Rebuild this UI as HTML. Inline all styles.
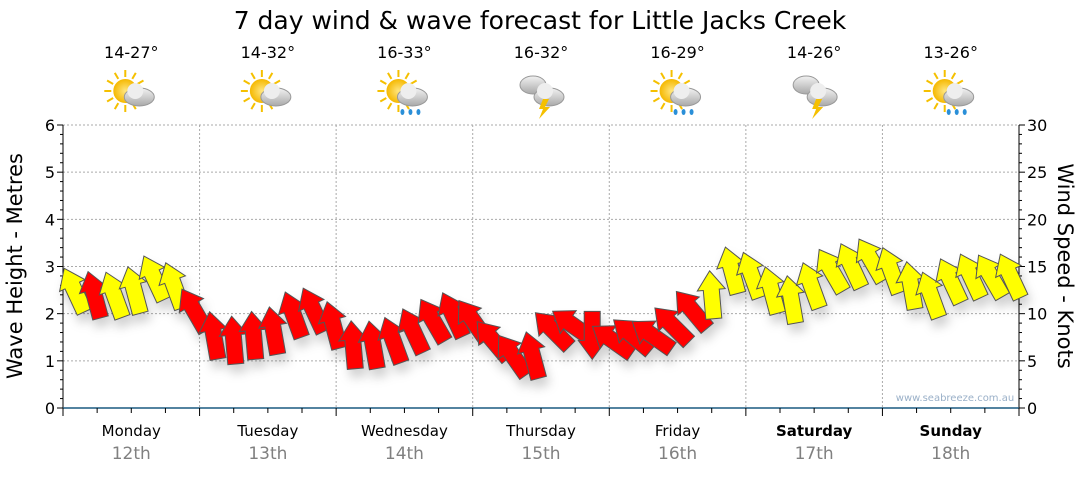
<!DOCTYPE html>
<html><head><meta charset="utf-8"><style>
body{margin:0;background:#fff;font-family:"Liberation Sans",sans-serif}
svg text{font-family:"DejaVu Sans","Liberation Sans",sans-serif}
</style></head><body>
<svg id="c" width="1080" height="475" xmlns="http://www.w3.org/2000/svg">
<defs>
<filter id="sh" x="-50%" y="-50%" width="200%" height="200%"><feDropShadow dx="3" dy="8" stdDeviation="5" flood-color="#000" flood-opacity="0.18"/></filter>
<radialGradient id="sun"><stop offset="0" stop-color="#ffe680"/><stop offset="1" stop-color="#f5b800"/></radialGradient>
<linearGradient id="cl" x1="0" y1="0" x2="0" y2="1"><stop offset="0" stop-color="#f2f2f2"/><stop offset="1" stop-color="#a9a9a9"/></linearGradient>
</defs>
<text x="540" y="29" text-anchor="middle" font-size="25" fill="#000">7 day wind &amp; wave forecast for Little Jacks Creek</text>
<g id="grid"></g>
<g id="axes"></g>
<g id="hdr"></g>
<g id="marks" filter="url(#sh)"></g>
<text x="955" y="401" text-anchor="middle" font-size="10" fill="#9ab0c8">www.seabreeze.com.au</text>
<text transform="translate(22,266) rotate(-90)" text-anchor="middle" font-size="21">Wave Height - Metres</text>
<text transform="translate(1058,266) rotate(90)" text-anchor="middle" font-size="21">Wind Speed - Knots</text>
</svg>
<script>
const days=["Monday","Tuesday","Wednesday","Thursday","Friday","Saturday","Sunday"];
const dates=["12th","13th","14th","15th","16th","17th","18th"];
const temps=["14-27°","14-32°","16-33°","16-32°","16-29°","14-26°","13-26°"];
const icons=["suncloud","suncloud","sunrain","storm","sunrain","storm","sunrain"];
const waveTicks=[0,1,2,3,4,5,6];
const windTicks=[0,5,10,15,20,25,30];
const hours=[2,5.5,9,12.5,16,19.5,23,26.5,30,33.5,37,40.5,44,47.5,51,54.5,58,61.5,65,68.5,72,75.5,79,82.5,86,89.5,93,96.5,100,103.5,107,110.5,114,117.5,121,124.5,128,131.5,135,138.5,142,145.5,149,152.5,156,159.5,163,166.5];
const windSpeed=[12.5,12,12,12.5,13.8,13,10.4,7.7,7.2,7.7,8.2,9.9,10.4,8.8,6.7,6.7,7.2,8.2,9.3,9.9,9.3,7.2,5.6,5.6,8.3,8.8,7.7,7.2,7.7,7.7,8.8,10.4,12,14.6,14.1,12.5,11.5,13,14.6,15.1,15.7,14.6,13,12,13.5,14,14,14,12];
const windDir=[-25,-15,-20,-15,-25,-20,-30,-10,-5,-5,-10,-20,-25,-15,-5,-10,-20,-25,-30,-25,-35,-40,-35,-15,-45,-55,180,-55,-50,-55,-45,-40,-5,-15,-20,-15,-10,-20,-30,-25,-30,-20,-10,-20,-25,-25,-30,-25,-20];
const windCol=["y","r","y","y","y","y","r","r","r","r","r","r","r","r","r","r","r","r","r","r","r","r","r","r","r","r","r","r","r","r","r","r","y","y","y","y","y","y","y","y","y","y","y","y","y","y","y","y","y"];
const NS="http://www.w3.org/2000/svg";
const X0=63,X1=1019,Y0=408,Y1=125;
const xH=h=>X0+h*(X1-X0)/168;
const yW=m=>Y0-m*(Y0-Y1)/6;
const yK=k=>Y0-k*(Y0-Y1)/30;
function mk(t,a,p){const e=document.createElementNS(NS,t);for(const k in a)e.setAttribute(k,a[k]);(p||document.getElementById('c')).appendChild(e);return e;}
const grid=document.getElementById('grid'),axes=document.getElementById('axes'),hdr=document.getElementById('hdr'),marks=document.getElementById('marks');
waveTicks.forEach(v=>{if(v>0){const l=mk('line',{x1:X0,x2:X1,y1:yW(v),y2:yW(v),stroke:'#aaa','stroke-dasharray':'2,2'},grid);}
 const t=mk('text',{x:X0-8,y:yW(v)+6,'text-anchor':'end','font-size':16},axes);t.textContent=v;
 mk('line',{x1:X0-6,x2:X0,y1:yW(v),y2:yW(v),stroke:'#000'},axes);});
for(let i=0;i<30;i++){if(i%5)mk('line',{x1:X0-3,x2:X0,y1:yW(i/5),y2:yW(i/5),stroke:'#000'},axes);if(i%5)mk('line',{x1:X1,x2:X1+3,y1:yK(i),y2:yK(i),stroke:'#000'},axes);}
windTicks.forEach(v=>{const t=mk('text',{x:X1+8,y:yK(v)+6,'font-size':16},axes);t.textContent=v;mk('line',{x1:X1,x2:X1+6,y1:yK(v),y2:yK(v),stroke:'#000'},axes);});
mk('line',{x1:X0,x2:X0,y1:Y1,y2:Y0+6,stroke:'#000'},axes);
mk('line',{x1:X1,x2:X1,y1:Y1,y2:Y0+6,stroke:'#000'},axes);
mk('line',{x1:X0,x2:X1,y1:Y0,y2:Y0,stroke:'#1a5a80','stroke-width':1.5},axes);
for(let h=0;h<=168;h+=6){mk('line',{x1:xH(h),x2:xH(h),y1:Y0,y2:Y0+(h%24?5:8),stroke:'#000'},axes);}
function icon(cx,cy,type,g){
 if(type!=="storm"){for(let a=0;a<360;a+=30){const r=a*Math.PI/180;mk('line',{x1:cx-6+Math.cos(r)*14,y1:cy-4+Math.sin(r)*14,x2:cx-6+Math.cos(r)*21,y2:cy-4+Math.sin(r)*21,stroke:'#f5c000','stroke-width':2},g);}
  mk('circle',{cx:cx-6,cy:cy-4,r:12,fill:'url(#sun)'},g);}
 else{mk('ellipse',{cx:cx-8,cy:cy-10,rx:13,ry:9,fill:'url(#cl)',stroke:'#999'},g);}
 mk('ellipse',{cx:cx+8,cy:cy+2,rx:15,ry:9,fill:'url(#cl)',stroke:'#999'},g);
 mk('circle',{cx:cx+4,cy:cy-4,r:8,fill:'#eee'},g);
 if(type==="sunrain"){[-2,6,14].forEach(d=>mk('ellipse',{cx:cx+d,cy:cy+17,rx:2,ry:3,fill:'#2a8fd8'},g));}
 if(type==="storm"){mk('polygon',{points:`${cx+2},${cy+4} ${cx+8},${cy+4} ${cx+4},${cy+12} ${cx+9},${cy+12} ${cx-2},${cy+24} ${cx+2},${cy+14} ${cx-2},${cy+14}`,fill:'#f5c000'},g);}
}
days.forEach((d,i)=>{const cx=xH(i*24+12);
 if(i>0){const l=mk('line',{x1:xH(i*24),x2:xH(i*24),y1:Y1,y2:Y0,stroke:'#aaa','stroke-dasharray':'2,2'},grid);}
 const t=mk('text',{x:cx,y:436,'text-anchor':'middle','font-size':15,'font-weight':i>=5?'bold':'normal'},hdr);t.textContent=d;
 const t2=mk('text',{x:cx,y:459,'text-anchor':'middle','font-size':17,fill:'#808080'},hdr);t2.textContent=dates[i];
 const t3=mk('text',{x:cx,y:58,'text-anchor':'middle','font-size':16},hdr);t3.textContent=temps[i];
 const g=mk('g',{},hdr);icon(cx,95,icons[i],g);});
hours.forEach((h,i)=>{const p=mk('polygon',{points:"0,-24 14,-5 8,-5 8,24 -8,24 -8,-5 -14,-5",fill:windCol[i]==="y"?'#ffff00':'#ff0000',stroke:'#555','stroke-width':1,transform:`translate(${xH(h)},${yK(windSpeed[i])}) rotate(${windDir[i]})`},marks);
 
 });
</script>
</body></html>
